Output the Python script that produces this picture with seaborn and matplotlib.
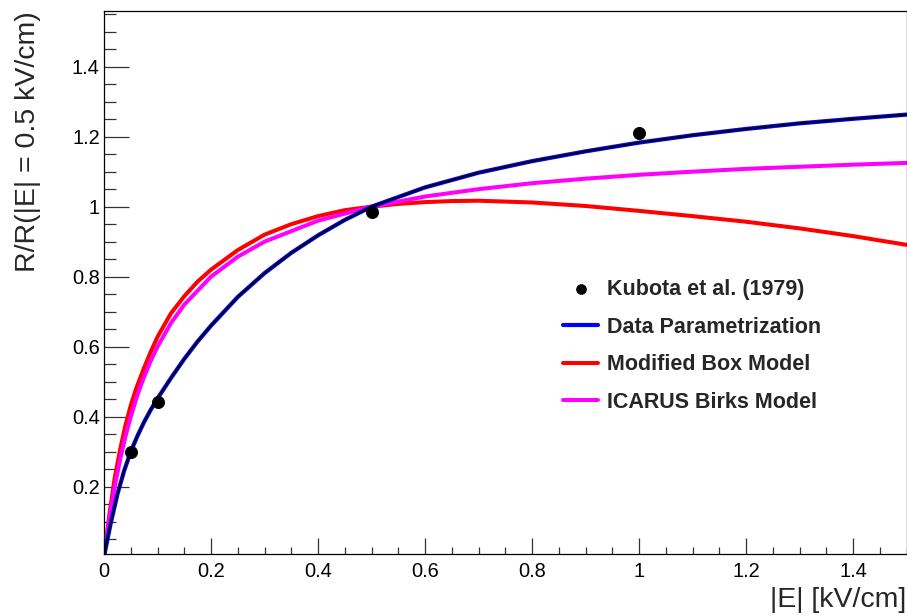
import numpy as np
import pandas as pd
import seaborn as sns
import matplotlib.pyplot as plt
from matplotlib.ticker import MultipleLocator, FuncFormatter

# Kubota et al. (1979) measurements
kubota_e = [0.05, 0.1, 0.5, 1.0]
kubota_r = [0.30, 0.443, 0.986, 1.21]

# Data parametrization
param_e = [0.0, 0.0125, 0.025, 0.0375, 0.05, 0.0625, 0.075, 0.0875, 0.1, 0.125,
           0.15, 0.175, 0.2, 0.25, 0.3, 0.35, 0.4, 0.45, 0.5, 0.6, 0.7, 0.8, 0.9,
           1.0, 1.1, 1.2, 1.3, 1.4, 1.5]
param_r = [0.0, 0.095, 0.178, 0.245, 0.30, 0.345, 0.385, 0.42, 0.452, 0.51,
           0.565, 0.615, 0.66, 0.742, 0.81, 0.868, 0.918, 0.962, 1.0, 1.055, 1.097,
           1.13, 1.158, 1.183, 1.204, 1.222, 1.238, 1.251, 1.263]

# Modified box model
box_e = [0.0, 0.01, 0.02, 0.03, 0.04, 0.05, 0.06, 0.075, 0.0875, 0.1, 0.125, 0.15,
         0.175, 0.2, 0.25, 0.3, 0.35, 0.4, 0.45, 0.5, 0.55, 0.6, 0.65, 0.7, 0.8,
         0.9, 1.0, 1.1, 1.2, 1.3, 1.4, 1.5]
box_r = [0.0, 0.12, 0.225, 0.305, 0.375, 0.432, 0.48, 0.54, 0.586, 0.628, 0.695,
         0.744, 0.786, 0.82, 0.876, 0.92, 0.95, 0.973, 0.99, 1.0, 1.008, 1.013,
         1.016, 1.017, 1.012, 1.002, 0.988, 0.973, 0.957, 0.938, 0.916, 0.891]

# ICARUS Birks model
birks_e = [0.0, 0.01, 0.02, 0.03, 0.04, 0.05, 0.0625, 0.075, 0.0875, 0.1, 0.125,
           0.15, 0.2, 0.25, 0.3, 0.4, 0.5, 0.6, 0.7, 0.8, 0.9, 1.0, 1.1, 1.2, 1.3,
           1.4, 1.5]
birks_r = [0.0, 0.109, 0.20, 0.277, 0.343, 0.40, 0.462, 0.514, 0.56, 0.60, 0.667,
           0.72, 0.80, 0.857, 0.90, 0.96, 1.0, 1.029, 1.05, 1.067, 1.08, 1.091,
           1.10, 1.108, 1.114, 1.12, 1.125]

sns.set_style("white")
plt.rcParams["font.family"] = ["Liberation Sans", "DejaVu Sans"]

fig = plt.figure(figsize=(9.07, 6.16), dpi=100)
ax = fig.add_axes([104 / 907, 1 - 553.7 / 616, (906.5 - 104) / 907, (553.7 - 11) / 616])

sns.lineplot(x=box_e, y=box_r, color="#ff0000", lw=2.9, ax=ax,
             label="Modified Box Model", sort=False)
sns.lineplot(x=birks_e, y=birks_r, color="#ff00ff", lw=2.9, ax=ax,
             label="ICARUS Birks Model", sort=False)
sns.lineplot(x=param_e, y=param_r, color="#0000ff", lw=3.0, ax=ax,
             label="Data Parametrization", sort=False)
sns.lineplot(x=param_e, y=param_r, color="black", lw=1.3, ax=ax,
             label="_nolegend_", sort=False)
sns.scatterplot(x=kubota_e, y=kubota_r, color="black", s=75, edgecolor="black",
                ax=ax, label="Kubota et al. (1979)", zorder=5)

ax.set_xlim(0, 1.5)
ax.set_ylim(0.0086, 1.559)

ax.xaxis.set_major_locator(MultipleLocator(0.2))
ax.xaxis.set_minor_locator(MultipleLocator(0.05))
ax.yaxis.set_major_locator(MultipleLocator(0.2))
ax.yaxis.set_minor_locator(MultipleLocator(0.05))
fmt = FuncFormatter(lambda v, _: f"{v:g}")
ax.xaxis.set_major_formatter(fmt)
ax.yaxis.set_major_formatter(fmt)

ax.tick_params(axis="both", which="both", direction="in", color="#333333",
               width=0.9, labelsize=14.4, labelcolor="black",
               bottom=True, left=True, top=False, right=False)
ax.tick_params(axis="y", which="major", length=18, pad=3)
ax.tick_params(axis="y", which="minor", length=8.6)
ax.tick_params(axis="x", which="major", length=11.5, pad=6)
ax.tick_params(axis="x", which="minor", length=5)

for sp in ax.spines.values():
    sp.set_color("black")
    sp.set_linewidth(0.9)

ax.set_xlabel("|E| [kV/cm]", fontsize=20.5, loc="right", labelpad=4)
ax.set_ylabel("R/R(|E| = 0.5 kV/cm)", fontsize=20.5, loc="top", labelpad=22)

handles, labels = ax.get_legend_handles_labels()
order = ["Kubota et al. (1979)", "Data Parametrization",
         "Modified Box Model", "ICARUS Birks Model"]
hmap = dict(zip(labels, handles))
ax.legend([hmap[k] for k in order], order, loc="upper left",
          bbox_to_anchor=(563 / 907, 1 - 279 / 616), bbox_transform=fig.transFigure,
          frameon=False, prop={"weight": "bold", "size": 15.5},
          handlelength=1.63, handletextpad=0.42, labelspacing=0.77,
          borderpad=0, borderaxespad=0, markerscale=0.8)

fig.savefig("out.png", dpi=100)
